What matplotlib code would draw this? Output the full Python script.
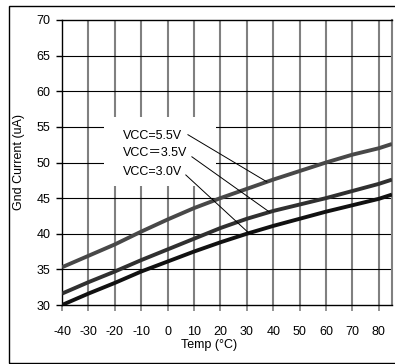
import numpy as np
import matplotlib
matplotlib.use("Agg")
import matplotlib.pyplot as plt
from matplotlib.patches import Rectangle

plt.rcParams['font.family'] = ['Liberation Sans', 'Noto Sans CJK JP', 'DejaVu Sans']

# ---- data ----
temps = [-40, -30, -20, -10, 0, 10, 20, 30, 40, 50, 60, 70, 80, 85]
vcc55 = [35.3, 36.9, 38.5, 40.3, 42.0, 43.6, 45.0, 46.3, 47.6, 48.8, 50.0, 51.1, 52.0, 52.6]
vcc35 = [31.6, 33.2, 34.7, 36.3, 37.8, 39.3, 40.8, 42.1, 43.2, 44.1, 45.0, 46.0, 47.0, 47.6]
vcc30 = [30.0, 31.6, 33.1, 34.7, 36.1, 37.5, 38.8, 40.0, 41.1, 42.1, 43.1, 44.0, 44.9, 45.5]
labels = ["VCC=5.5V", "VCC\uff1d3.5V", "VCC=3.0V"]
xticks = [-40, -30, -20, -10, 0, 10, 20, 30, 40, 50, 60, 70, 80]
yticks = [30, 35, 40, 45, 50, 55, 60, 65, 70]

W, H = 395, 364
fig = plt.figure(figsize=(W / 100, H / 100), dpi=100)
ax = fig.add_axes([62 / W, 1 - 305 / H, (392 - 62) / W, (305 - 20) / H])

ax.set_xlim(-40, 85)
ax.set_ylim(30, 70)
ax.set_xticks(xticks)
ax.set_yticks(yticks)
ax.set_xticklabels([str(t) for t in xticks])
ax.set_yticklabels([str(t) for t in yticks])

# grid: vertical gray, horizontal black
for t in xticks[1:]:
    ax.axvline(t, color='#808080', lw=1.5, zorder=0.5)
for v in yticks[1:-1]:
    ax.axhline(v, color='black', lw=0.8, zorder=0.5)

# white box behind labels
ax.add_patch(Rectangle((-24.1, 46.7), 42.4, 9.7, facecolor='white', edgecolor='none', zorder=1))

colors = ['#484848', '#303030', '#111111']
for ys, c in zip([vcc55, vcc35, vcc30], colors):
    ax.plot(temps, ys, color=c, lw=2.8, zorder=3, solid_capstyle='butt')

# labels and leader lines
text_pos = [(-16.9, 53.7), (-16.9, 51.3), (-16.9, 48.7)]
lead_start = [(7.7, 53.9), (9.2, 50.8), (6.9, 48.25)]
lead_end_t = [37.6, 38.6, 30.8]
for lab, (tx, ty), (sx, sy), et, ys in zip(labels, text_pos, lead_start, lead_end_t, [vcc55, vcc35, vcc30]):
    ax.text(tx, ty, lab, fontsize=9, va='center', ha='left', zorder=4)
    ax.plot([sx, et], [sy, np.interp(et, temps, ys)], color='black', lw=0.7, zorder=4)

for s in ['left', 'bottom', 'top']:
    ax.spines[s].set_color('black')
    ax.spines[s].set_linewidth(1.0)
ax.spines['right'].set_color('#808080')
ax.spines['right'].set_linewidth(1.5)

ax.tick_params(axis='x', direction='out', length=4, width=1.2, color='#808080', pad=11, labelsize=9)
ax.tick_params(axis='y', direction='out', length=4, width=1.0, color='black', pad=4.5, labelsize=9)

ax.set_xlabel("Temp (\u00b0C)", fontsize=9)
ax.xaxis.set_label_coords(0.445, -0.12)
ax.set_ylabel("Gnd Current (uA)", fontsize=9, labelpad=8)

# outer frame
fig.add_artist(Rectangle((8.5 / W, 1 - 362.5 / H), 1.05, (362.5 - 5.5) / H,
                         transform=fig.transFigure, facecolor='none', edgecolor='black', lw=1.0, clip_on=False))

fig.savefig("out.png", dpi=100)
